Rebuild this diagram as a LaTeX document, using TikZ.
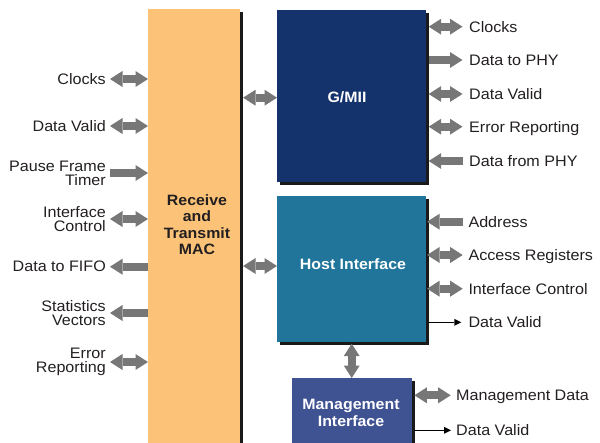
\documentclass[tikz,border=0pt]{standalone}
\usepackage{fontspec}
\setmainfont[FakeStretch=1.06]{Liberation Sans}
\usetikzlibrary{arrows.meta,shadows,calc}

\definecolor{macc}{HTML}{FCC378}
\definecolor{gmiic}{HTML}{14336C}
\definecolor{hostc}{HTML}{21759A}
\definecolor{mgmtc}{HTML}{3F5291}
\definecolor{arrowc}{HTML}{777777}
\definecolor{shadowc}{HTML}{1A1A1A}
\definecolor{textc}{HTML}{231F20}

\begin{document}
\begin{tikzpicture}[x=1pt,y=-1pt,
  box/.style={draw=none, inner sep=0pt, anchor=north west,
    drop shadow={shadow xshift=3pt, shadow yshift=-3pt, fill=shadowc, opacity=1}},
  title/.style={font=\fontsize{15}{16.5}\bfseries\selectfont, align=center, inner sep=0pt},
  lbl/.style={font=\fontsize{15.2}{14.3}\selectfont, text=textc, inner sep=0pt},
  lblL/.style={lbl, anchor=east, align=right},
  lblR/.style={lbl, anchor=west, align=left, text depth=0pt},
  blk/.style={draw=arrowc, line width=8pt},
  dbl/.style={blk, {Triangle[width=16pt 0 0,length=12.5pt 0 0,line width=0pt 0 0]}-{Triangle[width=16pt 0 0,length=12.5pt 0 0,line width=0pt 0 0]}},
  sgl/.style={blk, -{Triangle[width=16pt 0 0,length=12.5pt 0 0,line width=0pt 0 0]}},
  thin/.style={draw=black, line width=1pt, -{Triangle[width=7pt 0 0,length=7pt 0 0,line width=0pt 0 0]}}
]
\useasboundingbox (0,0) rectangle (600,442);

% main blocks
\node[box, fill=macc, minimum width=92pt, minimum height=445pt] (mac) at (148,9) {};
\node[box, fill=gmiic, minimum width=149pt, minimum height=172pt] (gmii) at (277,10) {};
\node[box, fill=hostc, minimum width=149pt, minimum height=146pt] (host) at (277,196) {};
\node[box, fill=mgmtc, minimum width=120pt, minimum height=80pt] (mgmt) at (292,378) {};

% block titles
\node[title, text=textc] (mactxt) at (197,224.5) {Receive\\and\\Transmit\\MAC};
\node[title, text=white] (gmiitxt) at (347,97) {G/MII};
\node[title, text=white] (hosttxt) at (353,264) {Host Interface};
\node[title, text=white] (mgmttxt) at (351,412.7) {Management\\Interface};

% links between blocks
\coordinate (ga) at (0,97.7);
\coordinate (ha) at (0,266);
\draw[dbl] ([xshift=2.7pt]mac.east |- ga) -- (gmii.west |- ga);
\draw[dbl] ([xshift=2.7pt]mac.east |- ha) -- (host.west |- ha);
\draw[dbl] ([yshift=-1.3pt]host.south) -- (host.south |- mgmt.north);

% MAC signals (left side)
\foreach \n/\y/\t in {
  c1/79/{Clocks},
  c2/126/{Data Valid},
  c3/173/{Pause Frame\\Timer},
  c4/219/{Interface\\Control},
  c5/266.7/{Data to FIFO},
  c6/313/{Statistics\\Vectors},
  c7/362/{Error\\Reporting}}{
  \coordinate (\n) at (106,\y);
  \node[lblL] (\n t) at (\n) {\t};
}
\draw[dbl] ([xshift=4pt]c1) -- (c1 -| mac.west);
\draw[dbl] ([xshift=4pt]c2) -- (c2 -| mac.west);
\draw[sgl] ([xshift=4pt]c3) -- (c3 -| mac.west);
\draw[dbl] ([xshift=4pt]c4) -- (c4 -| mac.west);
\draw[sgl] (c5 -| mac.west) -- ([xshift=4pt]c5);
\draw[sgl] (c6 -| mac.west) -- ([xshift=4pt]c6);
\draw[dbl] ([xshift=4pt]c7) -- (c7 -| mac.west);

% G/MII signals
\foreach \n/\y/\t in {g1/26.7/{Clocks}, g2/60/{Data to PHY}, g3/94/{Data Valid},
  g4/126.7/{Error Reporting}, g5/161/{Data from PHY}}{
  \coordinate (\n) at (469,\y);
  \node[lblR] (\n t) at (\n) {\t};
}
\draw[dbl] ([xshift=2.3pt]gmii.east |- g1) -- ([xshift=-6.5pt]g1);
\draw[sgl] ([xshift=2.3pt]gmii.east |- g2) -- ([xshift=-6.5pt]g2);
\draw[dbl] ([xshift=2.3pt]gmii.east |- g3) -- ([xshift=-6.5pt]g3);
\draw[dbl] ([xshift=2.3pt]gmii.east |- g4) -- ([xshift=-6.5pt]g4);
\draw[sgl] ([xshift=-6.5pt]g5) -- ([xshift=2.3pt]gmii.east |- g5);

% Host interface signals
\foreach \n/\y/\t in {h1/221.7/{Address}, h2/255/{Access Registers},
  h3/288.7/{Interface Control}, h4/322.3/{Data Valid}}{
  \coordinate (\n) at (468.3,\y);
  \node[lblR] (\n t) at (\n) {\t};
}
\draw[sgl] ([xshift=-5.6pt]h1) -- ([xshift=0.7pt]host.east |- h1);
\draw[dbl] ([xshift=0.7pt]host.east |- h2) -- ([xshift=-5.6pt]h2);
\draw[dbl] ([xshift=0.7pt]host.east |- h3) -- ([xshift=-5.6pt]h3);
\draw[thin] ([xshift=2pt]host.east |- h4) -- ([xshift=-7pt]h4);

% Management interface signals
\foreach \n/\y/\t in {m1/395.3/{Management Data}, m2/430.3/{Data Valid}}{
  \coordinate (\n) at (456,\y);
  \node[lblR] (\n t) at (\n) {\t};
}
\draw[dbl] ([xshift=2pt]mgmt.east |- m1) -- ([xshift=-5.3pt]m1);
\draw[thin] ([xshift=2pt]mgmt.east |- m2) -- ([xshift=-5pt]m2);
\end{tikzpicture}
\end{document}
